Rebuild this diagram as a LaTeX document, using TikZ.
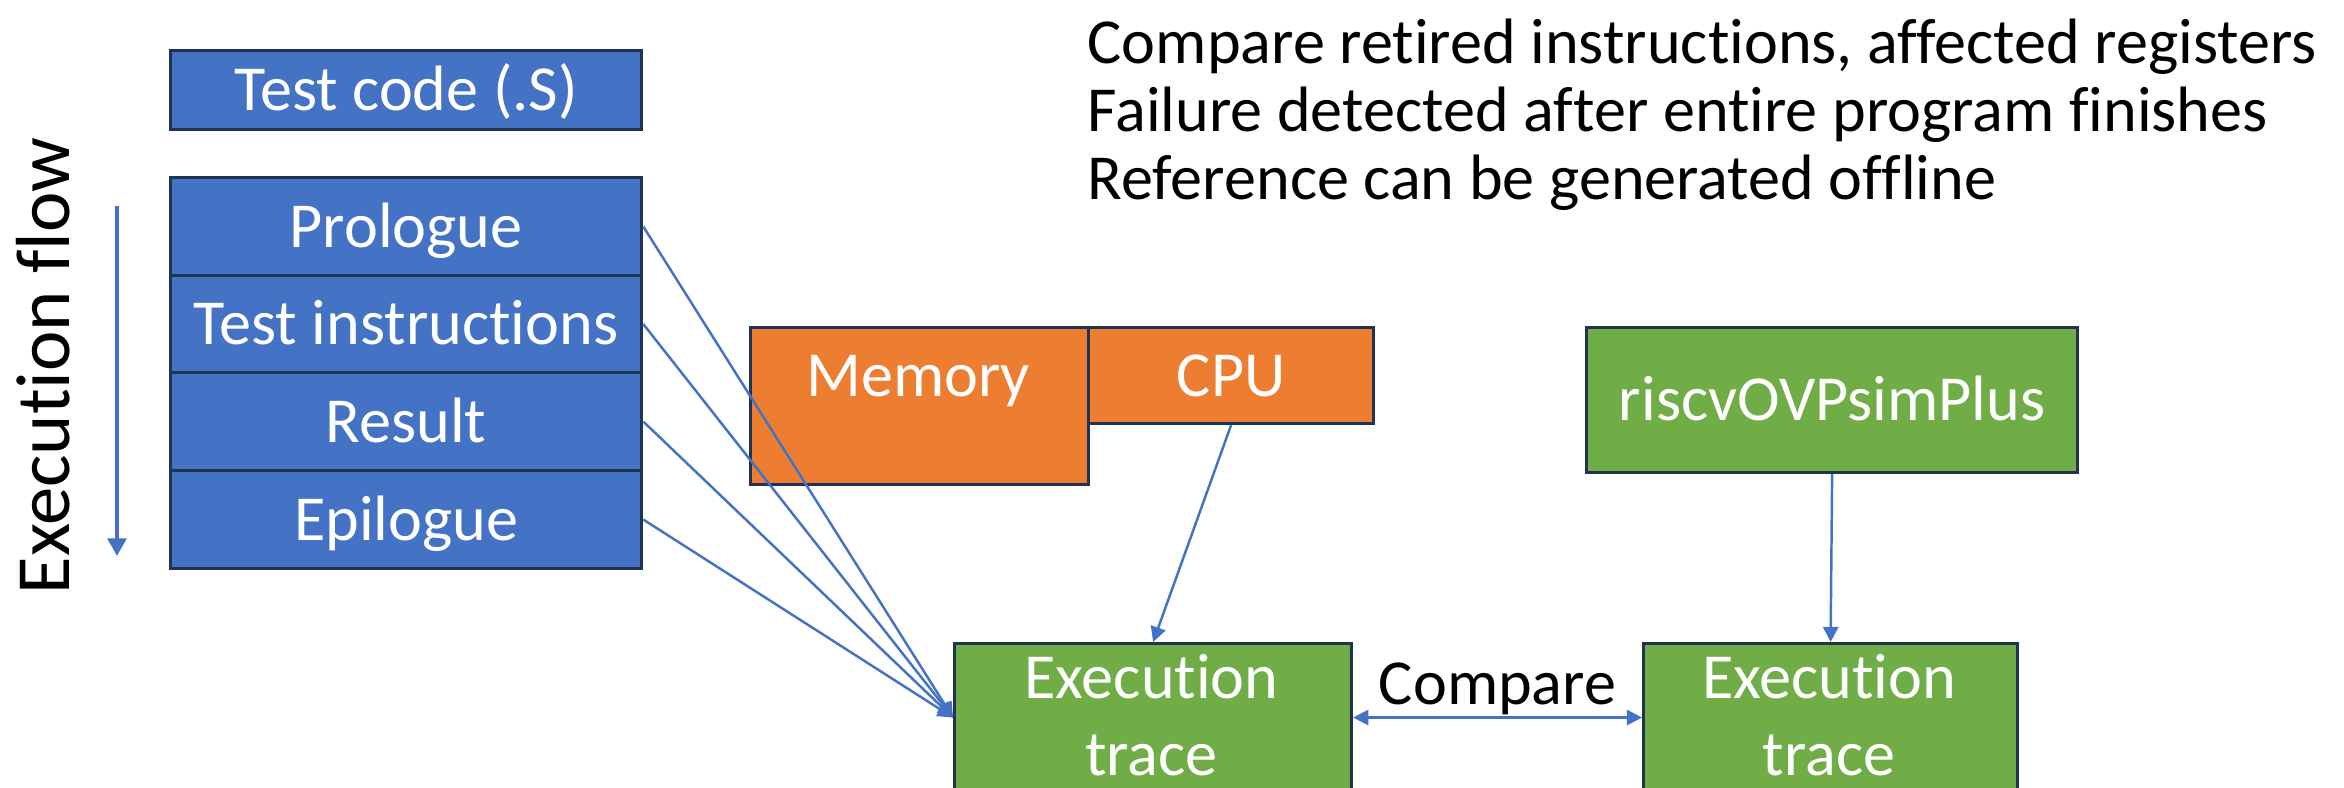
\documentclass[tikz,border=0pt]{standalone}
\usepackage{fontspec}
\setmainfont{Carlito}[Ligatures=NoCommon]
\usetikzlibrary{arrows.meta}
\definecolor{boxblue}{HTML}{4472C4}
\definecolor{boxorange}{HTML}{ED7D31}
\definecolor{boxgreen}{HTML}{70AD47}
\definecolor{edgenavy}{HTML}{1F3354}
\definecolor{linkblue}{HTML}{4472C4}

\begin{document}
\begin{tikzpicture}[x=0.01cm, y=-0.01cm,
  txt/.style={inner sep=0pt, font=\fontsize{18.25pt}{22pt}\selectfont},
  blk/.style={draw=edgenavy, line width=0.85pt, inner sep=0pt, text=white,
    font=\fontsize{18.25pt}{22pt}\selectfont, text height=0.415cm, text depth=0pt,
    anchor=north west},
  bluebox/.style={blk, fill=boxblue},
  orangebox/.style={blk, fill=boxorange},
  greenbox/.style={blk, fill=boxgreen},
  whitetxt/.style={txt, text=white, anchor=base},
  tipA/.tip={Triangle[length=4.3pt, width=4.3pt]},
  link/.style={draw=linkblue, line width=0.7pt, -tipA},
]
\useasboundingbox (0,0) rectangle (2344,787);
\fill[white] (0,0) rectangle (2344,787);
\clip (0,0) rectangle (2344,787);

% test program layout
\node[bluebox, minimum width=4.71cm, minimum height=0.79cm] (code) at (169,49) {Test code (.S)};
\node[bluebox, minimum width=4.71cm, minimum height=0.98cm] (pro) at (169,176) {Prologue};
\node[bluebox, minimum width=4.71cm, minimum height=0.97cm] (ins) at (169,274) {Test instructions};
\node[bluebox, minimum width=4.71cm, minimum height=0.98cm] (res) at (169,371) {Result};
\node[bluebox, minimum width=4.71cm, minimum height=0.98cm] (epi) at (169,469) {Epilogue};

% execution flow indicator
\coordinate (ftop) at (117,206);
\coordinate (fbot) at (117,556);
\draw[draw=linkblue, line width=1.4pt, -{Triangle[length=5pt, width=5.2pt]}] (ftop) -- (fbot);
\node[inner sep=0pt, rotate=90, anchor=base, font=\fontsize{21.8pt}{26pt}\selectfont] (flowlbl) at (70,366) {Execution flow};

% device under test
\node[orangebox, minimum width=3.38cm, minimum height=1.57cm] (mem) at (749,326) {};
\node[whitetxt] (memlbl) at (918,396) {Memory};
\node[orangebox, minimum width=2.85cm, minimum height=0.96cm] (cpu) at (1087,326) {CPU};

% reference simulator
\node[greenbox, minimum width=4.91cm, minimum height=1.45cm] (ovp) at (1585,326) {riscvOVPsimPlus};

% execution traces
\node[greenbox, minimum width=3.97cm, minimum height=1.48cm] (t1) at (953,642) {};
\node[whitetxt] (t1a) at (1151.5,698) {Execution};
\node[whitetxt] (t1b) at (1151.5,775) {trace};
\node[greenbox, minimum width=3.74cm, minimum height=1.48cm] (t2) at (1642,642) {};
\node[whitetxt] (t2a) at (1829,698) {Execution};
\node[whitetxt] (t2b) at (1829,775) {trace};

% connectors
\draw[link] (pro.east) -- (t1.west);
\draw[link] (ins.east) -- (t1.west);
\draw[link] (res.east) -- (t1.west);
\draw[link] (epi.east) -- (t1.west);
\draw[link] (cpu.south) -- (t1.north);
\draw[link] (ovp.south) -- (t2.north);
\draw[link, tipA-tipA] (t1.east) -- node[txt, midway, anchor=base, yshift=0.13cm] (cmp) {Compare} (t2.west);

% notes
\node[txt, anchor=base west] (note1) at (1087,63) {Compare retired instructions, affected registers};
\node[txt, anchor=base west] (note2) at (1087,131) {Failure detected after entire program finishes};
\node[txt, anchor=base west] (note3) at (1087,199) {Reference can be generated offline};
\end{tikzpicture}
\end{document}
